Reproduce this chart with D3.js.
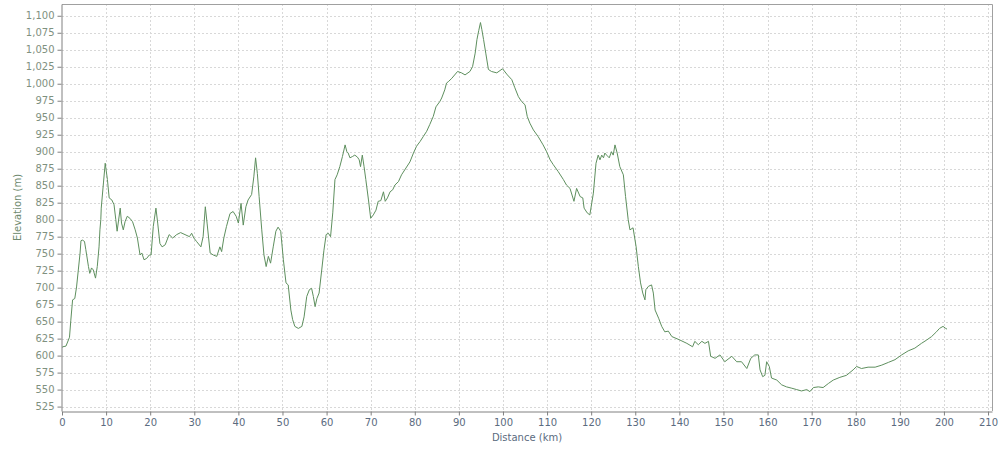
<!DOCTYPE html>
<html><head><meta charset="utf-8">
<script src="https://cdn.jsdelivr.net/npm/d3@7"></script>
<style>body{margin:0;background:#fff}svg{display:block}</style>
</head><body><svg id="c" width="1000" height="450"></svg>
<script>
const distanceKm = [0,0.2,0.9,1.7,2.0,2.4,2.9,3.3,3.7,4.1,4.3,4.6,5.1,5.4,6.0,6.3,6.7,7.1,7.6,8.0,8.4,8.6,8.8,8.9,9.4,9.8,10.3,10.7,11.3,11.8,12.2,12.5,13.2,13.5,13.9,14.3,14.8,15.4,16.0,16.6,17.1,17.7,18.1,18.6,19.2,19.8,20.2,20.7,21.3,21.7,22.2,22.7,23.4,24.3,25.1,26.0,26.9,27.9,28.9,29.4,29.9,30.5,31.5,32.0,32.5,32.9,33.6,34.3,35.1,35.8,36.2,36.7,37.3,38.1,38.8,39.5,40.0,40.6,41.1,41.7,42.2,43.0,43.5,43.9,44.3,44.7,45.3,45.8,46.3,46.8,47.3,47.9,48.5,49.0,49.6,50.2,50.8,51.3,51.9,52.3,52.8,53.6,54.4,54.9,55.5,56.1,56.6,57.0,57.4,57.8,58.3,58.9,59.4,59.9,60.4,60.9,61.4,61.9,62.4,63.0,63.6,64.2,64.6,64.9,65.3,65.9,66.4,67.0,67.4,67.7,68.1,68.5,68.9,69.5,70.0,70.6,71.2,71.7,72.3,72.9,73.3,73.8,74.4,75.0,75.5,76.3,77.0,78.0,78.9,79.7,80.4,81.2,81.9,82.7,83.4,84.2,84.8,85.7,86.1,86.8,87.2,87.6,88.4,89.7,90.6,91.4,92.5,93.1,93.7,94.1,94.5,94.9,95.2,95.6,96.1,96.7,97.4,98.6,99.9,101.0,102.0,102.7,103.5,104.2,105.0,105.5,106.1,106.9,108.0,109.1,109.9,110.7,111.4,112.5,113.7,114.4,115.2,116.1,116.7,117.5,118.1,118.4,119.1,119.7,120.5,121.1,121.6,122.0,122.4,122.8,123.1,123.5,124.1,124.6,125.0,125.4,125.9,126.5,127.3,127.8,128.4,128.8,129.5,130.2,130.7,131.2,131.7,132.2,132.4,133.0,133.7,134.1,134.5,135.3,136.0,136.7,137.5,138.3,140.1,141.7,143.0,143.5,144.3,145.1,145.8,146.6,147.1,148.1,149.2,150.3,151.9,153.0,154.1,155.3,156.2,157.1,157.9,158.3,158.9,159.4,159.8,160.4,160.9,162.1,163.2,164.3,165.5,166.6,167.7,168.9,169.6,170.4,171.5,172.6,173.8,174.9,176.4,177.9,179.4,180.2,181.3,182.8,184.4,185.9,187.4,188.9,190.4,191.9,193.4,194.9,196.1,197.2,198.3,199.0,199.8,200.4,200.7];
const elevationM = [612,613,614,627,652,682,684,701,726,751,769,770,768,756,731,721,729,726,714,731,760,785,800,817,854,883,859,832,829,822,800,783,817,795,785,797,805,802,797,785,773,748,751,741,743,748,748,790,817,795,765,760,763,778,773,778,781,778,775,780,773,768,760,775,819,795,751,748,746,760,753,773,790,809,812,805,795,824,792,819,829,837,863,891,868,834,785,748,731,746,736,760,783,789,783,741,707,704,667,653,643,640,643,657,687,697,699,687,672,684,692,726,755,778,780,775,810,859,866,878,893,910,900,898,891,893,895,892,888,878,895,878,859,829,802,807,814,827,828,841,827,832,841,844,851,856,866,876,885,898,908,915,922,930,940,952,966,974,979,991,1001,1003,1008,1018,1016,1013,1018,1025,1045,1065,1078,1090,1080,1065,1045,1021,1018,1016,1022,1013,1006,994,981,974,969,952,942,932,922,910,900,888,881,871,859,851,846,827,846,834,832,817,810,807,839,883,895,888,895,891,898,895,891,900,895,910,898,878,866,834,800,785,788,760,731,707,692,682,697,702,704,692,667,655,643,635,636,628,623,618,613,621,616,621,618,621,599,596,601,591,599,591,591,581,596,601,601,579,569,571,591,584,567,564,557,554,552,550,548,550,547,553,554,553,559,564,568,571,579,584,581,583,583,586,590,594,601,607,611,618,623,628,635,640,643,640,639];
const xTicks = [0,10,20,30,40,50,60,70,80,90,100,110,120,130,140,150,160,170,180,190,200,210];
const yTicks = [525,550,575,600,625,650,675,700,725,750,775,800,825,850,875,900,925,950,975,1000,1025,1050,1075,1100];
const xTitle = "Distance (km)";
const yTitle = "Elevation (m)";

const svg = d3.select("#c");
const L = 62, R = 992, T = 4, B = 411;
const x = d3.scaleLinear().domain([0, 210.9]).range([L, R]);
const y = d3.scaleLinear().domain([518.5, 1117.3]).range([B, T]);
const font = "DejaVu Sans, sans-serif";

// grid
const g = svg.append("g");
g.selectAll(".vg").data(xTicks.filter(d => d > 0)).enter().append("line")
  .attr("x1", d => Math.round(x(d)) + 0.5).attr("x2", d => Math.round(x(d)) + 0.5)
  .attr("y1", T).attr("y2", B)
  .attr("stroke", "#d8d8d8").attr("stroke-dasharray", "2,2");
g.selectAll(".hg").data(yTicks).enter().append("line")
  .attr("y1", d => Math.round(y(d)) + 0.5).attr("y2", d => Math.round(y(d)) + 0.5)
  .attr("x1", L).attr("x2", R)
  .attr("stroke", "#d8d8d8").attr("stroke-dasharray", "2,2");

// frame (top and right)
svg.append("path").attr("d", `M${L},${T + 0.5}H${R + 0.5}V${B}`)
  .attr("fill", "none").attr("stroke", "#a0a0a0");

// line
const line = d3.line().x((d, i) => x(distanceKm[i])).y(d => y(d));
svg.append("path").datum(elevationM).attr("d", line)
  .attr("fill", "none").attr("stroke", "#5e8f5e").attr("stroke-width", 1);

// axes
const xa = svg.append("g").attr("transform", `translate(0,${B + 0.5})`)
  .call(d3.axisBottom(x).tickValues(xTicks).tickSize(4).tickPadding(3).tickSizeOuter(0));
xa.select(".domain").attr("stroke", "#808080");
xa.selectAll(".tick line").attr("stroke", "#808080");
xa.selectAll("text").attr("fill", "#5b6b80").attr("font-family", font).attr("font-size", 10);

const ya = svg.append("g").attr("transform", `translate(${L - 0.5},0)`)
  .call(d3.axisLeft(y).tickValues(yTicks).tickFormat(d3.format(",")).tickSize(4).tickPadding(3).tickSizeOuter(0));
ya.select(".domain").attr("stroke", "#808080");
ya.selectAll(".tick line").attr("stroke", "#808080");
ya.selectAll("text").attr("fill", "#7f917f").attr("font-family", font).attr("font-size", 10);

svg.append("text").attr("x", (L + R) / 2).attr("y", 441).attr("text-anchor", "middle")
  .attr("font-family", font).attr("font-size", 10).attr("fill", "#5b6b80").text(xTitle);
svg.append("text").attr("transform", `translate(21,${(T + B) / 2}) rotate(-90)`)
  .attr("text-anchor", "middle").attr("font-family", font).attr("font-size", 10)
  .attr("fill", "#6f8a6f").text(yTitle);
</script></body></html>
